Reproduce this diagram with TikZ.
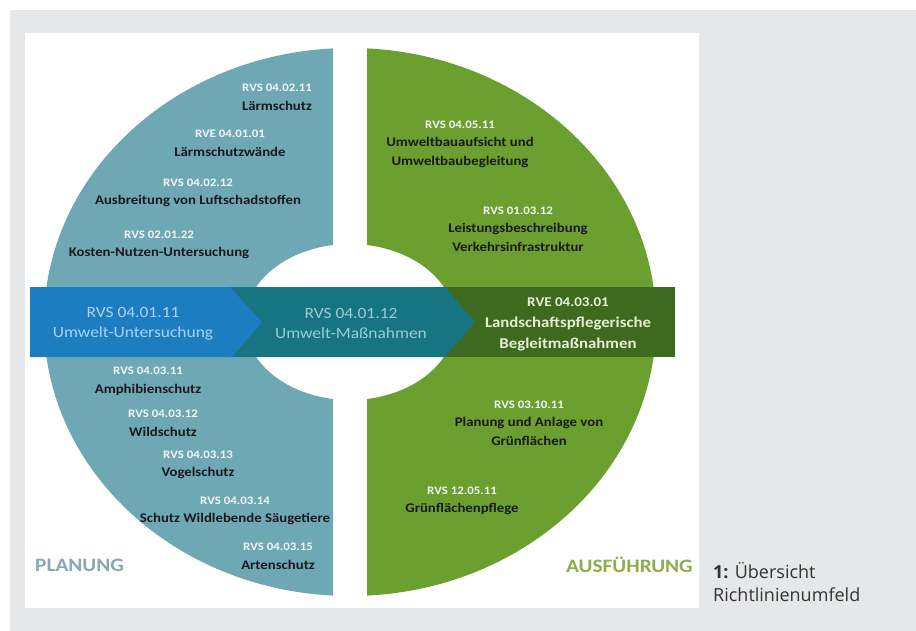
\documentclass[tikz,border=0pt]{standalone}
\usepackage{fontspec}
\setmainfont{Carlito}[FakeStretch=1.12]
\newfontfamily\capfont{Open Sans}
\definecolor{pagegray}{HTML}{E6E7E9}
\definecolor{planblue}{HTML}{6FA8B5}
\definecolor{ausgreen}{HTML}{6B9F2F}
\definecolor{bandblue}{HTML}{1C7EC1}
\definecolor{bandteal}{HTML}{167580}
\definecolor{banddark}{HTML}{3E6A1F}
\definecolor{codewhite}{HTML}{F2F6F6}
\definecolor{labelblack}{HTML}{1A1A1A}
\definecolor{planword}{HTML}{86A9B3}
\definecolor{ausword}{HTML}{8EAE4C}
\definecolor{bluetext}{HTML}{A9D2EF}
\definecolor{tealtext}{HTML}{9CCBD6}
\definecolor{darktext}{HTML}{E6EFD6}
\newcommand{\codefont}{\bfseries\fontsize{11.5}{19}\selectfont}
\tikzset{
  entry/.style={inner sep=0pt, align=center, text=labelblack,
    font=\bfseries\fontsize{13.2}{18.6}\selectfont},
  bandtext/.style={inner sep=0pt, align=center, font=\fontsize{15.6}{20}\selectfont},
  phase/.style={inner sep=0pt, font=\bfseries\fontsize{19}{22}\selectfont}
}
\begin{document}
\begin{tikzpicture}[x=1pt,y=-1pt]
    \useasboundingbox (0,0) rectangle (916,631);
    \fill[white] (0,0) rectangle (916,631);
    \fill[pagegray] (10,10) rectangle (916,631);
    \fill[white] (25,33) rectangle (699,608);
    % the two halves of the ring
    \begin{scope}
    \clip (25,33) rectangle (333,608);
    \fill[planblue,even odd rule] (350,322) ellipse [x radius=306pt, y radius=274pt]
        (350,322) ellipse [x radius=105pt, y radius=78pt];
    \end{scope}
    \begin{scope}
    \clip (367,33) rectangle (699,608);
    \fill[ausgreen,even odd rule] (350,322) ellipse [x radius=306pt, y radius=274pt]
        (350,322) ellipse [x radius=105pt, y radius=78pt];
    \end{scope}
    % band
    \fill[banddark] (440,287) -- (675,287) -- (675,357) -- (440,357) -- cycle;
    \fill[bandteal] (230,287) -- (445,287) -- (475,322) -- (445,357) -- (230,357) -- cycle;
    \fill[bandblue] (30,287) -- (230,287) -- (262,322) -- (232,357) -- (30,357) -- cycle;
    %\draw[loosely dotted] (0,0) grid[step=50] (916,631);
    \foreach \n/\x/\y/\c/\t in {pa/277/97/RVS 04.02.11/Lärmschutz,
        pb/230/143/RVE 04.01.01/Lärmschutzwände,
        pc/198/193/RVS 04.02.12/Ausbreitung von Luftschadstoffen,
        pd/159/245/RVS 02.01.22/Kosten-Nutzen-Untersuchung,
        pe/148/381/RVS 04.03.11/Amphibienschutz,
        pf/163/423/RVS 04.03.12/Wildschutz,
        pg/198/465/RVS 04.03.13/Vogelschutz,
        ph/235/511/RVS 04.03.14/Schutz Wildlebende Säugetiere,
        pi/278/556/RVS 04.03.15/Artenschutz,
        ga/460/144/RVS 04.05.11/Umweltbauaufsicht und\\Umweltbaubegleitung,
        gb/518/229/RVS 01.03.12/Leistungsbeschreibung\\Verkehrsinfrastruktur,
        gc/529/423/RVS 03.10.11/Planung und Anlage von\\Grünflächen,
        gd/462/501/RVS 12.05.11/Grünflächenpflege}
    \node[entry] (\n) at (\x,\y) {{\codefont\color{codewhite}\c}\\\t};
    \node[bandtext,text=bluetext] (bu) at (133,324) {RVS 04.01.11\\Umwelt-Untersuchung};
    \node[bandtext,text=tealtext] (bm) at (351,323) {RVS 04.01.12\\Umwelt-Maßnahmen};
    \node[bandtext,text=darktext,font=\bfseries\fontsize{15}{21}\selectfont] (bl) at (568,324)
        {{\fontsize{13.4}{21}\selectfont RVE 04.03.01}\\Landschaftspflegerische\\Begleitmaßnahmen};
    \node[phase,text=planword,anchor=west] (plan) at (35,565) {PLANUNG};
    \node[phase,text=ausword,anchor=west] (aus) at (566,565) {AUSFÜHRUNG};
    \node[inner sep=0pt,anchor=base west,font=\capfont\fontsize{18}{23}\selectfont,text=black!80]
        (cap1) at (713,578) {\textbf{1:} Übersicht};
    \node[inner sep=0pt,anchor=base west,font=\capfont\fontsize{18}{23}\selectfont,text=black!80]
        (cap2) at (713,601) {Richtlinienumfeld};
\end{tikzpicture}
\end{document}
